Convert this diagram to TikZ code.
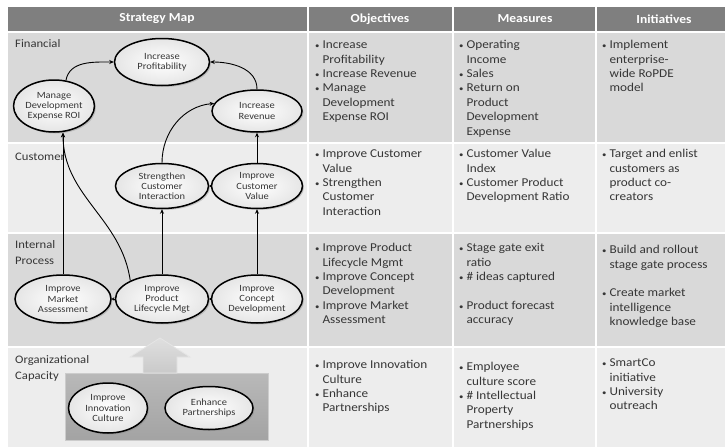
\documentclass[tikz,border=0pt]{standalone}
\usepackage{fontspec}
\setmainfont{Carlito}[FakeStretch=1.1]
\usepackage{tikz}
\usetikzlibrary{shapes}
\usetikzlibrary{arrows.meta}
\usetikzlibrary{shadows}
\usetikzlibrary{positioning}
\definecolor{headgray}{HTML}{7F7F7F}
\definecolor{darkrow}{HTML}{D9D9D9}
\definecolor{lightrow}{HTML}{EDEDED}
\definecolor{txtgray}{HTML}{363636}
\tikzstyle{goal}=[ellipse, draw=black, line width=1.5pt, shade, inner color=white, outer color=gray!20,
  drop shadow={shadow xshift=1.5pt, shadow yshift=-1.5pt, opacity=0.35},
  align=center, inner sep=0pt, text=txtgray, font=\fontsize{9.5}{10.2}\selectfont]
\tikzstyle{link}=[-{Stealth[length=4.5pt,width=4pt]}, line width=0.9pt]
\tikzstyle{tinylink}=[-{Stealth[length=2.5pt,width=3.5pt]}, line width=0.9pt]
\tikzstyle{cell}=[anchor=north west, inner sep=0pt, text=txtgray, font=\fontsize{12}{14.4}\selectfont]
\tikzstyle{rowlabel}=[anchor=north west, inner sep=0pt, align=left, text=txtgray, font=\fontsize{11.5}{15.5}\selectfont]
\tikzstyle{head}=[text=white, font=\fontsize{12.3}{14}\selectfont\bfseries]
\newcommand{\bul}{{\fontsize{8}{8}\selectfont\textbullet}}
\newcommand{\items}[1]{\begin{tabular}{@{}l@{\hspace{3pt}}l@{}}#1\end{tabular}}

\begin{document}
\begin{tikzpicture}[x=1pt,y=1pt]
  \useasboundingbox (0,0) rectangle (725,-447);
  \fill[headgray] (8,-7) rectangle (725,-31);
  \fill[darkrow] (8,-33) rectangle (725,-142);
  \fill[lightrow] (8,-144) rectangle (725,-232);
  \fill[darkrow] (8,-234) rectangle (725,-346);
  \fill[lightrow] (8,-348) rectangle (725,-447);
  \foreach \x in {308,453,596}
    \draw[white, line width=2pt] (\x,-7) -- (\x,-447);

  \node[head] at (157,-19) (hmap) {Strategy Map};
  \node[head] at (380,-19) (hobj) {Objectives};
  \node[head] at (525,-19) (hmea) {Measures};
  \node[head] at (664,-19) (hini) {Initiatives};

  \node[rowlabel] at (15,-39.5) (lfin) {Financial};
  \node[rowlabel] at (15,-152.5) (lcus) {Customer};
  \node[rowlabel] at (15,-240.5) (lint) {Internal\\Process};
  \node[rowlabel] at (15,-355.5) (lorg) {Organizational\\Capacity};

  \node[cell] at (315,-38.5) (obfin) {\items{\bul & Increase\\ & Profitability\\ \bul & Increase Revenue\\ \bul & Manage\\ & Development\\ & Expense ROI}};
  \node[cell] at (459,-38.5) (mefin) {\items{\bul & Operating\\ & Income\\ \bul & Sales\\ \bul & Return on\\ & Product\\ & Development\\ & Expense}};
  \node[cell] at (602,-38.5) (infin) {\items{\bul & Implement\\ & enterprise-\\ & wide RoPDE\\ & model}};
  \node[cell] at (315,-147.5) (obcus) {\items{\bul & Improve Customer\\ & Value\\ \bul & Strengthen\\ & Customer\\ & Interaction}};
  \node[cell] at (459,-147.5) (mecus) {\items{\bul & Customer Value\\ & Index\\ \bul & Customer Product\\ & Development Ratio}};
  \node[cell] at (602,-147.5) (incus) {\items{\bul & Target and enlist\\ & customers as\\ & product co-\\ & creators}};
  \node[cell] at (315,-241.5) (obint) {\items{\bul & Improve Product\\ & Lifecycle Mgmt\\ \bul & Improve Concept\\ & Development\\ \bul & Improve Market\\ & Assessment}};
  \node[cell] at (459,-241.5) (meint) {\items{\bul & Stage gate exit\\ & ratio\\ \bul & \# ideas captured\\ & \\ \bul & Product forecast\\ & accuracy}};
  \node[cell] at (602,-243.5) (inint) {\items{\bul & Build and rollout\\ & stage gate process\\ & \\ \bul & Create market\\ & intelligence\\ & knowledge base}};
  \node[cell] at (315,-358.5) (oborg) {\items{\bul & Improve Innovation\\ & Culture\\ \bul & Enhance\\ & Partnerships}};
  \node[cell] at (459,-360.5) (meorg) {\items{\bul & Employee\\ & culture score\\ \bul & \# Intellectual\\ & Property\\ & Partnerships}};
  \node[cell] at (602,-356.5) (inorg) {\items{\bul & SmartCo\\ & initiative\\ \bul & University\\ & outreach}};

  \shade[top color=gray!55, bottom color=gray!72, draw=gray!40, line width=1pt] (65,-373) rectangle (268,-440);
  \shade[top color=gray!25, bottom color=gray!42, draw=gray!20, line width=0.8pt]
    (143,-373) -- (143,-357) -- (130,-357) -- (160,-338) -- (190,-357) -- (177,-357) -- (177,-373) -- cycle;

  \node[goal, minimum width=95, minimum height=47] at (162,-62) (profit) {Increase\\Profitability};
  \node[goal, minimum width=74, minimum height=52] at (54,-106) (mder) {Manage\\Development\\Expense ROI};
  \node[goal, minimum width=90, minimum height=42] at (257,-111) (rev) {Increase\\Revenue};
  \node[goal, minimum width=93, minimum height=45] at (162,-186) (sci) {Strengthen\\Customer\\Interaction};
  \node[goal, minimum width=91, minimum height=45] at (257,-186) (icv) {Improve\\Customer\\Value};
  \node[goal, minimum width=96, minimum height=48] at (63,-299) (ima) {Improve\\Market\\Assessment};
  \node[goal, minimum width=93, minimum height=48] at (162,-299) (iplm) {Improve\\Product\\Lifecycle Mgt};
  \node[goal, minimum width=91, minimum height=48] at (257,-299) (icd) {Improve\\Concept\\Development};
  \node[goal, minimum width=79, minimum height=50] at (108,-408) (iic) {Improve\\Innovation\\Culture};
  \node[goal, minimum width=88, minimum height=43] at (209,-408) (ep) {Enhance\\Partnerships};

  \draw[link] (mder.65) to[out=80,in=180] (profit.west);
  \draw[link] (rev.north) to[out=90,in=0] (profit.east);
  \draw[link] (sci.north) to[out=90,in=185] (rev.170);
  \draw[link] (icv) -- (rev);
  \draw[tinylink] (icv) -- (sci);
  \draw[link] (ima.north) -- (ima.north |- mder.south);
  \draw[link] (iplm.150) to[out=98,in=-90] (ima.north |- mder.south);
  \draw[link] (iplm) -- (sci);
  \draw[link] (icd) -- (icv);
  \draw[tinylink] (iplm) -- (ima);
  \draw[tinylink] (icd) -- (iplm);
\end{tikzpicture}
\end{document}
